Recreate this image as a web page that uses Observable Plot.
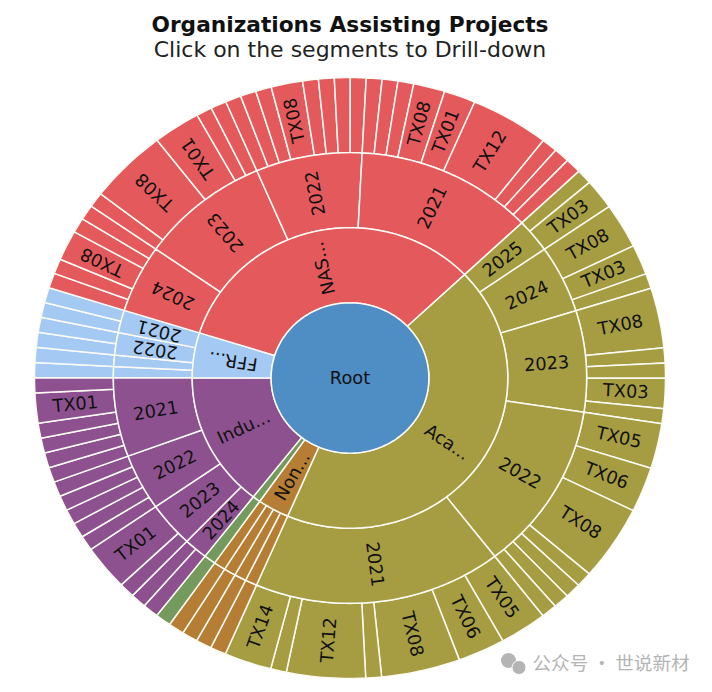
<!DOCTYPE html>
<html>
<head>
<meta charset="utf-8">
<script src="https://cdn.jsdelivr.net/npm/d3@7"></script>
<script src="https://cdn.jsdelivr.net/npm/@observablehq/plot@0.6"></script>
<style>
  html, body { margin: 0; padding: 0; background: #fff; }
  #head { height: 70px; width: 700px; text-align: center; font-family: "DejaVu Sans", sans-serif; color: #111; overflow: hidden; }
  #title { font-weight: bold; font-size: 21.7px; line-height: 25px; padding-top: 12px; }
  #sub { font-size: 22px; line-height: 26px; color: #222; }
  svg { display: block; }
</style>
</head>
<body>
<div id="head">
  <div id="title">Organizations Assisting Projects</div>
  <div id="sub">Click on the segments to Drill-down</div>
</div>
<div id="chart"></div>
<script>
// All lists run clockwise, beginning at the Academia / NASA border.
const rootLabel = "Root";
const groupLabels = ["Aca...", "Non...", "", "Indu...", "FFR...", "NAS..."];
const groupKeys = ["Academia", "Non-profit", "Other", "Industry", "FFRDC", "NASA"];
const groupColors = ["#a69d43", "#b67d34", "#749a5e", "#8d5190", "#a4c9f3", "#e45a5c"];

// Years in each group: [label, group index]
const yearLabels = [
  "2025", "2024", "2023", "2022", "2021",
  "", "", "", "",
  "",
  "2024", "2023", "2022", "2021",
  "", "", "2022", "2021",
  "2024", "2023", "2022", "2021"
];
const yearGroups = [0,0,0,0,0, 1,1,1,1, 2, 3,3,3,3, 4,4,4,4, 5,5,5,5];

// Leaves in each year, year by year: counts and labels
const leafCounts = [
  [1,2], [3,2,1], [4,1,1,2,1], [3,3,5,1,1,1,1], [3,3,5,1,5,1,3],
  [1], [1], [1], [1],
  [1],
  [1,1], [1,3], [1,1,1,1,1], [1,1,1,1,2,1],
  [1], [1], [1,1], [1,1],
  [1,1,2,1,1], [1,5,3,1,1], [1,1,1,2,1,1,1,1], [1,1,1,2,2,5,1,1,1]
];
const leafLabels = [
  ["","TX03"], ["TX08","TX03",""], ["TX08","","","TX03",""], ["TX05","TX06","TX08","","","",""], ["TX05","TX06","TX08","","TX12","","TX14"],
  [""], [""], [""], [""],
  [""],
  ["",""], ["","TX01"], ["","","","",""], ["","","","","TX01",""],
  [""], [""], ["",""], ["",""],
  ["","","TX08","",""], ["","TX08","TX01","",""], ["","","","TX08","","","",""], ["","","","TX08","TX01","TX12","","",""]
];

const startAngle = 46.5;
const rings = [0, 0.25, 0.5, 0.75, 1];
const total = d3.sum(leafCounts.flat());
const unit = 360 / total;

// Build the three levels from the counts
const segments = [];
let pos = 0;
yearLabels.forEach((yl, yi) => {
  const g = yearGroups[yi];
  const y0 = pos;
  leafCounts[yi].forEach((c, i) => {
    segments.push({level: 3, group: groupKeys[g], label: leafLabels[yi][i], a0: pos, a1: pos + c});
    pos += c;
  });
  segments.push({level: 2, group: groupKeys[g], label: yl, a0: y0, a1: pos});
});
groupKeys.forEach((k, g) => {
  const ys = segments.filter(s => s.level === 2 && s.group === k);
  segments.push({level: 1, group: k, label: groupLabels[g], a0: d3.min(ys, s => s.a0), a1: d3.max(ys, s => s.a1)});
});

const rad = Math.PI / 180;
const angle = v => startAngle + v * unit;
const outline = [];
segments.forEach((s, id) => {
  const t0 = angle(s.a0), t1 = angle(s.a1);
  const n = Math.max(2, Math.ceil(t1 - t0));
  const rIn = rings[s.level], rOut = rings[s.level + 1];
  const arc = d3.range(n + 1).map(i => t0 + (t1 - t0) * i / n);
  const pts = [...arc.map(t => [t, rOut]), ...arc.slice().reverse().map(t => [t, rIn])];
  pts.push(pts[0]);
  pts.forEach(([t, r]) => outline.push({id, group: s.group, x: r * Math.sin(t * rad), y: r * Math.cos(t * rad)}));
});
d3.range(0, 361, 2).forEach(t => outline.push({id: "root", group: "Root", x: rings[1] * Math.sin(t * rad), y: rings[1] * Math.cos(t * rad)}));

// Pixel half-axes of the drawing (the picture is slightly wider than tall)
const rx = 315.5, ry = 300.5, cx = 349.5, cy = 307.5;

const labels = segments.filter(s => s.label).map(s => {
  const t = ((angle((s.a0 + s.a1) / 2) % 360) + 360) % 360;
  const r = (rings[s.level] + rings[s.level + 1]) / 2;
  const sx = Math.sin(t * rad), cs = Math.cos(t * rad);
  let rot = Math.atan2(-cs * ry, sx * rx) / rad;
  if (t > 180 && t < 270) rot += 180;
  return {text: s.label, x: r * sx, y: r * cs, rot};
});
labels.push({text: rootLabel, x: 0, y: 0, rot: 0});

const wm = ["公众号 · 世说新材"];

const chart = Plot.plot({
  width: 712,
  height: 622,
  margin: 0,
  axis: null,
  x: {domain: [-1, 1], range: [cx - rx, cx + rx]},
  y: {domain: [-1, 1], range: [cy + ry, cy - ry]},
  color: {domain: [...groupKeys, "Root"], range: [...groupColors, "#4f8dc5"]},
  marks: [
    Plot.line(outline, {x: "x", y: "y", z: "id", fill: "group", stroke: "#fbfbf4", strokeWidth: 1.5, strokeLinejoin: "round", curve: "linear"}),
    Plot.text(labels, {x: "x", y: "y", text: "text", rotate: "rot", fontSize: 17.8, fontFamily: "DejaVu Sans", fill: "#111", textAnchor: "middle", lineAnchor: "middle"}),
    Plot.dot(wm, {frameAnchor: "top-left", dx: 508, dy: 590, r: 7.5, fill: "#b4b4b4"}),
    Plot.dot(wm, {frameAnchor: "top-left", dx: 518.5, dy: 597, r: 7, fill: "#b4b4b4", stroke: "#fff", strokeWidth: 1}),
    Plot.text(wm, {text: d => d, frameAnchor: "top-left", dx: 532, dy: 594, textAnchor: "start", lineAnchor: "middle", fontSize: 18.6, fontFamily: "Noto Sans CJK SC", fill: "#b4b4b4"})
  ]
});
document.getElementById("chart").append(chart);
</script>
</body>
</html>
